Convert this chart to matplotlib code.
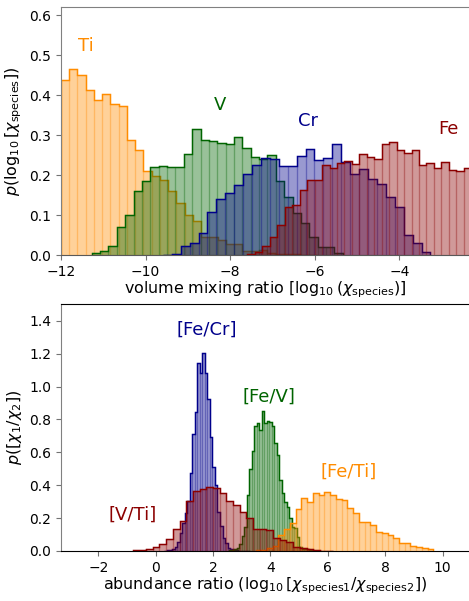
import numpy as np
import matplotlib
matplotlib.use("Agg")
import matplotlib.pyplot as plt
from matplotlib.colors import to_rgba

# top panel: volume mixing ratios, log10 (bin start, bin width, heights)
ti_start, ti_width = -12.0, 0.195
ti_vals = [0.438, 0.466, 0.450, 0.413, 0.387, 0.404, 0.378, 0.372, 0.287, 0.262,
           0.209, 0.198, 0.188, 0.159, 0.129, 0.099, 0.084, 0.045, 0.044, 0.038,
           0.028, 0.028, 0.011, 0.011, 0.013, 0.004, 0.003, 0.002, 0.002, 0.001, 0.001]

v_start, v_width = -11.274, 0.198
v_vals = [0.006, 0.011, 0.023, 0.069, 0.100, 0.160, 0.184, 0.219, 0.224, 0.219,
          0.221, 0.253, 0.315, 0.287, 0.286, 0.280, 0.278, 0.295, 0.268, 0.246,
          0.240, 0.251, 0.184, 0.146, 0.104, 0.079, 0.044, 0.019, 0.019, 0.004]

cr_start, cr_width = -9.591, 0.211
cr_vals = [0.001, 0.003, 0.023, 0.029, 0.056, 0.108, 0.140, 0.155, 0.174, 0.203,
           0.226, 0.242, 0.240, 0.224, 0.224, 0.248, 0.266, 0.238, 0.244, 0.279,
           0.234, 0.203, 0.215, 0.190, 0.177, 0.146, 0.119, 0.049, 0.031, 0.008]

fe_start, fe_width = -7.589, 0.1764
fe_vals = [0.003, 0.008, 0.022, 0.044, 0.075, 0.119, 0.124, 0.163, 0.188, 0.188,
           0.225, 0.217, 0.231, 0.236, 0.228, 0.253, 0.245, 0.240, 0.279, 0.282,
           0.263, 0.256, 0.263, 0.225, 0.230, 0.217, 0.233, 0.212, 0.210, 0.217,
           0.215, 0.210]

# bottom panel: abundance ratios
fecr_start, fecr_width = 0.307, 0.088
fecr_vals = [0.003, 0.005, 0.008, 0.012, 0.026, 0.057, 0.108, 0.170, 0.230, 0.306,
             0.477, 0.712, 0.848, 1.146, 1.081, 1.203, 1.081, 0.923, 0.696, 0.513,
             0.400, 0.240, 0.150, 0.080, 0.050, 0.020, 0.010, 0.005, 0.004, 0.003,
             0.003, 0.002, 0.002, 0.001]

vti_start, vti_width = -0.8, 0.233
vti_vals = [0.005, 0.008, 0.012, 0.026, 0.043, 0.071, 0.132, 0.183, 0.306, 0.367,
            0.375, 0.391, 0.385, 0.355, 0.306, 0.280, 0.240, 0.199, 0.132, 0.132,
            0.128, 0.077, 0.067, 0.053, 0.026, 0.016, 0.010, 0.005, 0.003, 0.002]

fev_start, fev_width = 2.561, 0.087
fev_vals = [0.005, 0.008, 0.012, 0.020, 0.040, 0.090, 0.148, 0.340, 0.500, 0.610,
            0.760, 0.780, 0.736, 0.850, 0.777, 0.793, 0.787, 0.757, 0.655, 0.584,
            0.432, 0.350, 0.300, 0.270, 0.200, 0.145, 0.140, 0.087, 0.026, 0.012,
            0.010, 0.012, 0.005, 0.003]

feti_start, feti_width = 3.48, 0.2
feti_vals = [0.004, 0.008, 0.016, 0.030, 0.100, 0.132, 0.168, 0.253, 0.320, 0.300,
             0.350, 0.340, 0.361, 0.340, 0.314, 0.310, 0.260, 0.233, 0.174, 0.178,
             0.158, 0.115, 0.112, 0.097, 0.081, 0.051, 0.051, 0.032, 0.022, 0.016, 0.010]


def draw_hist(ax, start, width, vals, color):
    edges = start + width * np.arange(len(vals) + 1)
    ax.bar(edges[:-1], vals, width=width, align='edge',
           facecolor=to_rgba(color, 0.4), edgecolor=to_rgba(color, 0.22),
           linewidth=0.9)
    ax.stairs(vals, edges, color=color, linewidth=1.05)


def style_axes(ax, spine_col):
    ax.spines['right'].set_visible(False)
    for s in ['left', 'top', 'bottom']:
        ax.spines[s].set_color(spine_col[s])
    ax.tick_params(labelsize=10, colors='0.45', labelcolor='black', length=3.5)


fig = plt.figure(figsize=(4.69, 6.01), dpi=100)

ax1 = fig.add_axes([0.130, 0.5757, 0.870, 0.4122])
draw_hist(ax1, ti_start, ti_width, ti_vals, 'darkorange')
draw_hist(ax1, v_start, v_width, v_vals, 'darkgreen')
draw_hist(ax1, cr_start, cr_width, cr_vals, 'darkblue')
draw_hist(ax1, fe_start, fe_width, fe_vals, 'darkred')
ax1.set_xlim(-12, -2.35)
ax1.set_ylim(0, 0.62)
ax1.set_xticks([-12, -10, -8, -6, -4])
ax1.set_yticks([0.0, 0.1, 0.2, 0.3, 0.4, 0.5, 0.6])
ax1.text(-11.41, 0.524, 'Ti', color='darkorange', fontsize=13, ha='center', va='center')
ax1.text(-8.24, 0.376, 'V', color='darkgreen', fontsize=13, ha='center', va='center')
ax1.text(-6.15, 0.336, 'Cr', color='darkblue', fontsize=13, ha='center', va='center')
ax1.text(-2.83, 0.316, 'Fe', color='darkred', fontsize=13, ha='center', va='center')
ax1.set_xlabel(r'volume mixing ratio [$\log_{10}(\chi_{\rm species})$]', fontsize=11.4, labelpad=0.5)
ax1.set_ylabel(r'$p(\log_{10}[\chi_{\rm species}])$', fontsize=11.5)
style_axes(ax1, {'left': '0.5', 'top': '0.5', 'bottom': '0.35'})

ax2 = fig.add_axes([0.130, 0.0832, 0.870, 0.4105])
draw_hist(ax2, fecr_start, fecr_width, fecr_vals, 'darkblue')
draw_hist(ax2, fev_start, fev_width, fev_vals, 'darkgreen')
draw_hist(ax2, feti_start, feti_width, feti_vals, 'darkorange')
draw_hist(ax2, vti_start, vti_width, vti_vals, 'darkred')
ax2.set_xlim(-3.3, 10.92)
ax2.set_ylim(0, 1.5)
ax2.set_xticks([-2, 0, 2, 4, 6, 8, 10])
ax2.set_yticks([0.0, 0.2, 0.4, 0.6, 0.8, 1.0, 1.2, 1.4])
ax2.text(1.79, 1.345, '[Fe/Cr]', color='darkblue', fontsize=13, ha='center', va='center')
ax2.text(3.96, 0.94, '[Fe/V]', color='darkgreen', fontsize=13, ha='center', va='center')
ax2.text(6.71, 0.484, '[Fe/Ti]', color='darkorange', fontsize=13, ha='center', va='center')
ax2.text(-0.81, 0.22, '[V/Ti]', color='darkred', fontsize=13, ha='center', va='center')
ax2.set_xlabel(r'abundance ratio ($\log_{10}[\chi_{\rm species1}/\chi_{\rm species2}]$)', fontsize=11.4, labelpad=0.5)
ax2.set_ylabel(r'$p([\chi_1/\chi_2])$', fontsize=11.5)
style_axes(ax2, {'left': '0.5', 'top': 'black', 'bottom': 'black'})

fig.savefig('out.png', dpi=100)
